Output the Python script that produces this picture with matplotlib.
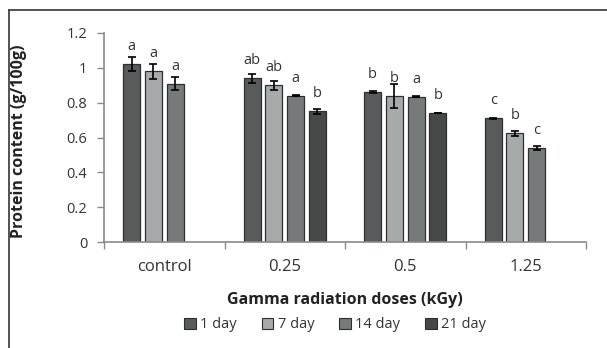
import numpy as np
import matplotlib
matplotlib.use('Agg')
import matplotlib.pyplot as plt
from matplotlib.lines import Line2D
from matplotlib.patches import Patch

plt.rcParams['font.family'] = ['Open Sans', 'DejaVu Sans']

# ── data ──────────────────────────────────────────────────────────────────────
doses = ['control', '0.25', '0.5', '1.25']
days = ['1 day', '7 day', '14 day', '21 day']

day1 = [1.02, 0.94, 0.86, 0.71]
day1_err = [0.04, 0.025, 0.005, 0.003]
day7 = [0.98, 0.90, 0.84, 0.625]
day7_err = [0.044, 0.025, 0.07, 0.015]
day14 = [0.91, 0.84, 0.835, 0.54]
day14_err = [0.04, 0.004, 0.005, 0.012]
day21 = [np.nan, 0.75, 0.74, np.nan]
day21_err = [np.nan, 0.015, 0.0, np.nan]

let1 = ['a', 'ab', 'b', 'c']
let7 = ['a', 'ab', 'b', 'b']
let14 = ['a', 'a', 'a', 'c']
let21 = ['', 'b', 'b', '']

series = [(day1, day1_err, let1), (day7, day7_err, let7),
          (day14, day14_err, let14), (day21, day21_err, let21)]
colors = ['#575b5b', '#a7aaaa', '#767a7a', '#474949']
axis_col = '#8a8a8a'

# ── figure ────────────────────────────────────────────────────────────────────
fig = plt.figure(figsize=(6.07, 3.48), dpi=100)
ax = fig.add_axes([104/607, 1-242/348, (586-104)/607, (242-33)/348])

x = np.arange(len(doses))
slot = 0.18
for i, (vals, errs, labs) in enumerate(series):
    xi = x + (i - 1.5) * slot
    v = np.array(vals, dtype=float)
    e = np.array(errs, dtype=float)
    ax.bar(xi, v, width=0.14, color=colors[i], edgecolor='#2e3030',
           linewidth=0.9, zorder=2)
    ok = ~np.isnan(v)
    ax.errorbar(xi[ok], v[ok], yerr=e[ok], fmt='none', ecolor='black',
                elinewidth=1.2, capsize=3.2, capthick=1.2, zorder=3)
    for xx, vv, ll in zip(xi, v, labs):
        if ll:
            ax.annotate(ll, (xx, vv), xytext=(0, 10), textcoords='offset points',
                        ha='center', va='baseline', fontsize=10.5, color='#333333')

ax.set_xlim(-0.5, len(doses) - 0.5)
ax.set_ylim(0, 1.2)
ax.set_yticks(np.arange(0, 1.21, 0.2))
ax.set_yticklabels(['0', '0.2', '0.4', '0.6', '0.8', '1', '1.2'])
ax.set_xticks(x)
ax.set_xticklabels(doses)
ax.set_xticks(np.arange(-0.5, len(doses)), minor=True)
ax.tick_params(axis='x', which='major', length=0, pad=12.5, labelsize=12,
               labelcolor='#333333')
ax.tick_params(axis='x', which='minor', length=5, width=1, color=axis_col)
ax.tick_params(axis='y', length=5, width=1, color=axis_col, pad=7,
               labelsize=10.5, labelcolor='#333333')
for s in ['top', 'right']:
    ax.spines[s].set_visible(False)
for s in ['left', 'bottom']:
    ax.spines[s].set_color(axis_col)
    ax.spines[s].set_linewidth(1.2)

fig.text(19/607, 1-141/348, 'Protein content (g/100g)', rotation=90,
         ha='center', va='center', fontsize=11.5, fontweight='bold',
         color='#222222')
fig.text(345/607, 1-300/348, 'Gamma radiation doses (kGy)', ha='center',
         va='center', fontsize=11.5, fontweight='bold', color='#222222')

handles = [Patch(facecolor=c, edgecolor='#2e3030', linewidth=0.8) for c in colors]
fig.legend(handles, days, loc='center', bbox_to_anchor=(335/607, 1-325/348),
           ncol=4, frameon=False, fontsize=10.5, handlelength=0.8,
           handleheight=0.8, handletextpad=0.3, columnspacing=1.7,
           labelcolor='#333333')

# outer frame (only top and left edges visible in the crop)
fig.add_artist(Line2D([8.5/607, 1], [1-9.5/348, 1-9.5/348],
                      transform=fig.transFigure, color='#444444', lw=1.3))
fig.add_artist(Line2D([8.5/607, 8.5/607], [0, 1-9.5/348],
                      transform=fig.transFigure, color='#444444', lw=1.3))

fig.savefig('out.png', dpi=100)
